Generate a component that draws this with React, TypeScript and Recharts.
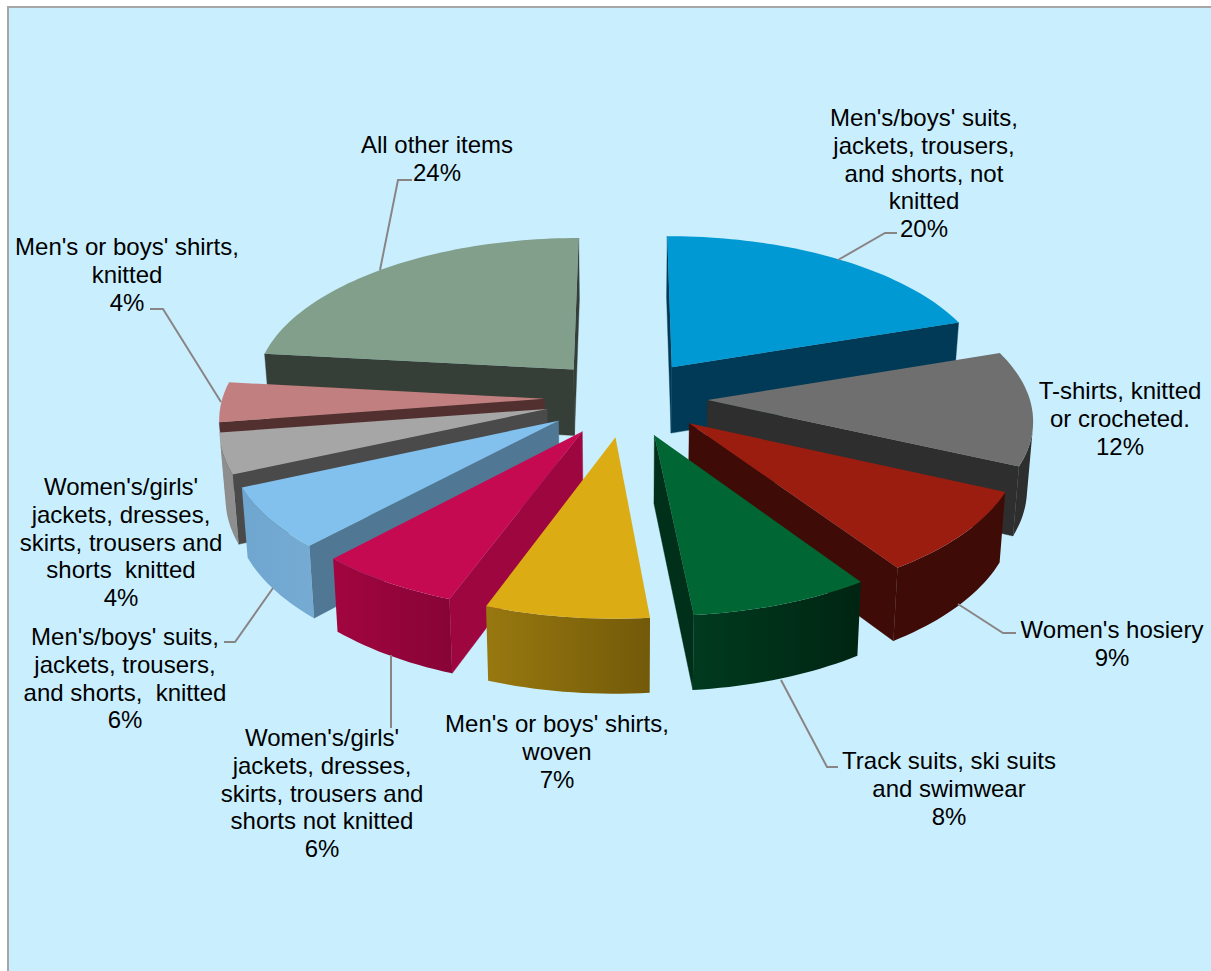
import { PieChart, Pie } from "recharts";

const sliceNames = [
  ["Men's/boys' suits,", "jackets, trousers,", "and shorts, not", "knitted"],
  ["T-shirts, knitted", "or crocheted."],
  ["Women's hosiery"],
  ["Track suits, ski suits", "and swimwear"],
  ["Men's or boys' shirts,", "woven"],
  ["Women's/girls'", "jackets, dresses,", "skirts, trousers and", "shorts not knitted"],
  ["Men's/boys' suits,", "jackets, trousers,", "and shorts,  knitted"],
  ["Women's/girls'", "jackets, dresses,", "skirts, trousers and", "shorts  knitted"],
  ["Men's or boys' shirts,", "knitted"],
  ["All other items"],
];
const shares = [20, 12, 9, 8, 7, 6, 6, 4, 4, 24];

const topColors = ["#0099D4", "#6F6F6F", "#9A1D10", "#006633", "#DCAC14", "#C60A52", "#82C1EE", "#A6A6A6", "#C27F7F", "#819F8B"];
const sideColors = ["#003A56", "#2E2E2E", "#3F0B06", "#00301A", "#8A6C0E", "#9E0640", "#507895", "#4A4A4A", "#533030", "#363F37"];
const rimLeft = ["#003A56", "#2E2E2E", "#3F0B06", "#003A1F", "#98780F", "#A2053F", "#6FA6D0", "#8E8E8E", "#9A6868", "#363F37"];
const rimRight = ["#003A56", "#2E2E2E", "#3F0B06", "#002512", "#735A0A", "#880436", "#75ABD3", "#8E8E8E", "#9A6868", "#363F37"];

// label anchor (centre x, first baseline) and leader line for each slice
const labelCenters = [
  [924, 126], [1120, 399], [1112, 638], [949, 769], [557, 732],
  [322, 746], [125, 645], [121, 495], [127, 255], [437, 153],
];
const leaders = [
  "838,260 885,233 897,233", "", "958,604 1003,633 1016,633", "781,680 827,767 838,767", "",
  "391,655 391,728", "273,588 235,642 224,642", "", "221,402 163,309 150,309", "380,270 398,180 412,180",
];

const width = 1211;
const height = 971;
const centerX = 626;
const centerY = 398;
const radius = 322;
const explode = 81.5;
const tilt = 0.472;
const eyeDistance = 2913;
const firstAngle = 91.5;
const lineGap = 27.8;

const rad = Math.PI / 180;
type Pt = [number, number];

const rows = shares.map((value, slice) => ({ name: sliceNames[slice].join(" "), value, slice }));
// left half goes first, counter-clockwise, then the right half, so the front slices land on top
const rightRows = rows.slice(0, 5);
const leftRows = rows.slice(5).reverse();
const total = shares.reduce((a, b) => a + b, 0);
const rightSweep = (rightRows.reduce((a, r) => a + r.value, 0) / total) * 360;
const leftSweep = 360 - rightSweep;

// lens correction of the view, in degrees, for a polar angle
function viewAngle(polar: number) {
  const t = (90 - polar) * rad;
  return polar - (1.55 + 0.9 * Math.cos(t) - 1.55 * Math.sin(t) - 1.04 * Math.cos(2 * t) - 0.5 * Math.sin(2 * t));
}

function project(gx: number, gy: number): { top: Pt; bottom: Pt } {
  const s = 1 / (1 - gy / eyeDistance);
  const x = centerX + gx * s;
  const y = centerY + gy * tilt * s;
  return {
    top: [x, y],
    bottom: [centerX + (x - centerX) * 0.985, y + 17 + 50 * s],
  };
}

const toPath = (pts: Pt[]) => "M" + pts.map((p) => p[0].toFixed(2) + "," + p[1].toFixed(2)).join("L") + "Z";
const cross = (a: Pt, b: Pt, c: Pt) => (b[0] - a[0]) * (c[1] - a[1]) - (b[1] - a[1]) * (c[0] - a[0]);

function Slice3D(props: any) {
  const { startAngle, endAngle, outerRadius, slice } = props;
  const mid = viewAngle((startAngle + endAngle) / 2) * rad;
  const ox = explode * Math.cos(mid);
  const oy = -explode * Math.sin(mid);
  const steps = Math.max(4, Math.ceil(Math.abs(endAngle - startAngle) / 1.5));

  const apex = project(ox, oy);
  const arc = [];
  for (let i = 0; i <= steps; i++) {
    const a = viewAngle(startAngle + ((endAngle - startAngle) * i) / steps) * rad;
    arc.push(project(ox + outerRadius * Math.cos(a), oy - outerRadius * Math.sin(a)));
  }
  const topPts = [apex.top, ...arc.map((p) => p.top)];
  const midArc = arc[Math.floor(steps / 2)].top;
  const inner: Pt = [(apex.top[0] + midArc[0]) / 2, (apex.top[1] + midArc[1]) / 2];
  const xs = arc.map((p) => p.top[0]);

  // a wall shows only where its lower edge falls outside the top face
  const faces = (p: Pt, q: Pt, b: Pt) => Math.sign(cross(p, q, b)) !== Math.sign(cross(p, q, inner));

  const sides = [arc[0], arc[steps]]
    .filter((edge) => faces(apex.top, edge.top, apex.bottom))
    .map((edge) => toPath([apex.top, edge.top, edge.bottom, apex.bottom]));

  // outer wall: runs of neighbouring visible segments
  const rims: string[] = [];
  let run: typeof arc = [];
  for (let i = 0; i < steps; i++) {
    const visible = faces(arc[i].top, arc[i + 1].top, arc[i].bottom);
    if (visible) {
      if (run.length === 0) run.push(arc[i]);
      run.push(arc[i + 1]);
    }
    if ((!visible || i === steps - 1) && run.length > 0) {
      rims.push(toPath([...run.map((p) => p.top), ...run.map((p) => p.bottom).reverse()]));
      run = [];
    }
  }

  const gradientId = `rim-${slice}`;
  return (
    <g>
      <defs>
        <linearGradient id={gradientId} gradientUnits="userSpaceOnUse" x1={Math.min(...xs)} x2={Math.max(...xs)} y1={0} y2={0}>
          <stop offset="0%" stopColor={rimLeft[slice]} />
          <stop offset="100%" stopColor={rimRight[slice]} />
        </linearGradient>
      </defs>
      {sides.map((d, i) => (
        <path key={i} d={d} fill={sideColors[slice]} stroke={sideColors[slice]} strokeWidth={0.4} />
      ))}
      {rims.map((d, i) => (
        <path key={i} d={d} fill={`url(#${gradientId})`} />
      ))}
      <path d={toPath(topPts)} fill={topColors[slice]} />
    </g>
  );
}

function SliceLabel(props: any) {
  const { slice, value } = props;
  const [x, y] = labelCenters[slice];
  const lines = [...sliceNames[slice], `${value}%`];
  return (
    <g>
      {leaders[slice] && <polyline points={leaders[slice]} fill="none" stroke="#8A8585" strokeWidth={2} />}
      <text x={x} y={y} textAnchor="middle" fontFamily="'Liberation Sans', Arial, sans-serif" fontSize={24} fill="#000">
        {lines.map((line, i) => (
          <tspan key={i} x={x} y={y + i * lineGap} xmlSpace="preserve">
            {line}
          </tspan>
        ))}
      </text>
    </g>
  );
}

export default function App() {
  return (
    <div style={{ position: "absolute", left: 0, top: 0, width, height, overflow: "hidden" }}>
      <div
        style={{
          position: "absolute",
          left: 7,
          top: 6,
          right: 0,
          bottom: 0,
          background: "#C9EFFF",
          borderLeft: "2px solid #A6A6A6",
          borderTop: "2px solid #A6A6A6",
        }}
      />
      <div style={{ position: "absolute", left: 0, top: 0 }}>
        <PieChart width={width} height={height} margin={{ top: 0, right: 0, bottom: 0, left: 0 }}>
          <Pie
            data={leftRows}
            dataKey="value"
            nameKey="name"
            cx={centerX}
            cy={centerY}
            outerRadius={radius}
            startAngle={firstAngle}
            endAngle={firstAngle + leftSweep}
            stroke="none"
            shape={Slice3D}
            label={SliceLabel}
            labelLine={false}
            isAnimationActive={false}
          />
          <Pie
            data={rightRows}
            dataKey="value"
            nameKey="name"
            cx={centerX}
            cy={centerY}
            outerRadius={radius}
            startAngle={firstAngle}
            endAngle={firstAngle - rightSweep}
            stroke="none"
            shape={Slice3D}
            label={SliceLabel}
            labelLine={false}
            isAnimationActive={false}
          />
        </PieChart>
      </div>
    </div>
  );
}
